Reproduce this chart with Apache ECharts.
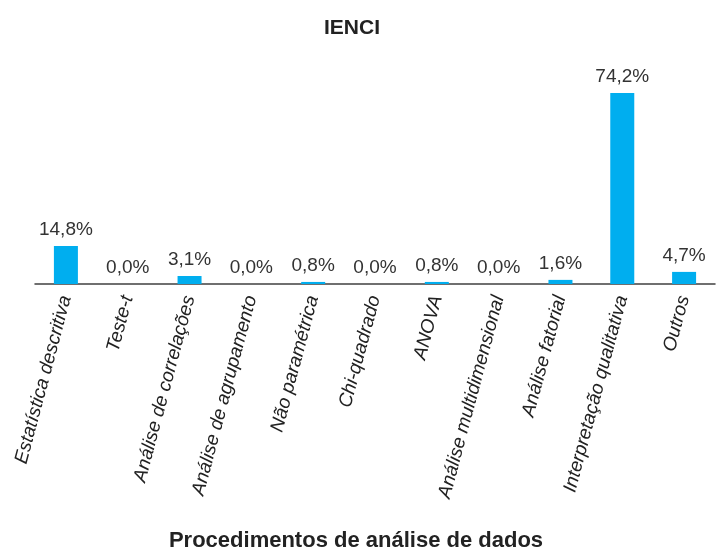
<!DOCTYPE html>
<html>
<head>
<meta charset="utf-8">
<script src="https://cdn.jsdelivr.net/npm/echarts@6/dist/echarts.min.js"></script>
<style>
  html, body { margin: 0; padding: 0; background: #fff; }
  #chart { width: 719px; height: 550px; }
</style>
</head>
<body>
<div id="chart"></div>
<script>
var categorias = ['Estatística descritiva', 'Teste-t', 'Análise de correlações', 'Análise de agrupamento',
    'Não paramétrica', 'Chi-quadrado', 'ANOVA', 'Análise multidimensional', 'Análise fatorial',
    'Interpretação qualitativa', 'Outros'];
var valores = [14.8, 0.0, 3.1, 0.0, 0.8, 0.0, 0.8, 0.0, 1.6, 74.2, 4.7];

var myChart = echarts.init(document.getElementById('chart'));

var option = {
    title: [{
        text: 'IENCI',
        left: 347,
        top: 13,
        textAlign: 'center',
        textStyle: { fontFamily: 'Liberation Sans', fontSize: 21, fontWeight: 'bold', color: '#222' }
    }, {
        // nome do eixo x
        text: 'Procedimentos de análise de dados',
        left: 351,
        top: 525,
        textAlign: 'center',
        textStyle: { fontFamily: 'Liberation Sans', fontSize: 22, fontWeight: 'bold', color: '#222' }
    }],
    grid: { left: 35, right: 4, top: 78, bottom: 266 },
    xAxis: {
        type: 'category',
        data: categorias,
        axisLine: { lineStyle: { color: '#404040', width: 1.5 } },
        axisTick: { show: false },
        axisLabel: {
            interval: 0,
            rotate: 75,
            margin: 12,
            fontFamily: 'Liberation Sans',
            fontSize: 19,
            fontStyle: 'italic',
            color: '#222'
        }
    },
    yAxis: {
        type: 'value',
        min: 0,
        max: 80,
        show: false
    },
    series: [{
        type: 'bar',
        data: valores,
        barWidth: 24,
        itemStyle: { color: '#00AEEF' },
        label: {
            show: true,
            position: 'top',
            distance: 7,
            fontFamily: 'Liberation Sans',
            fontSize: 19,
            color: '#333',
            formatter: function (p) { return p.value.toFixed(1).replace('.', ',') + '%'; }
        }
    }]
};

myChart.setOption(option);
</script>
</body>
</html>
